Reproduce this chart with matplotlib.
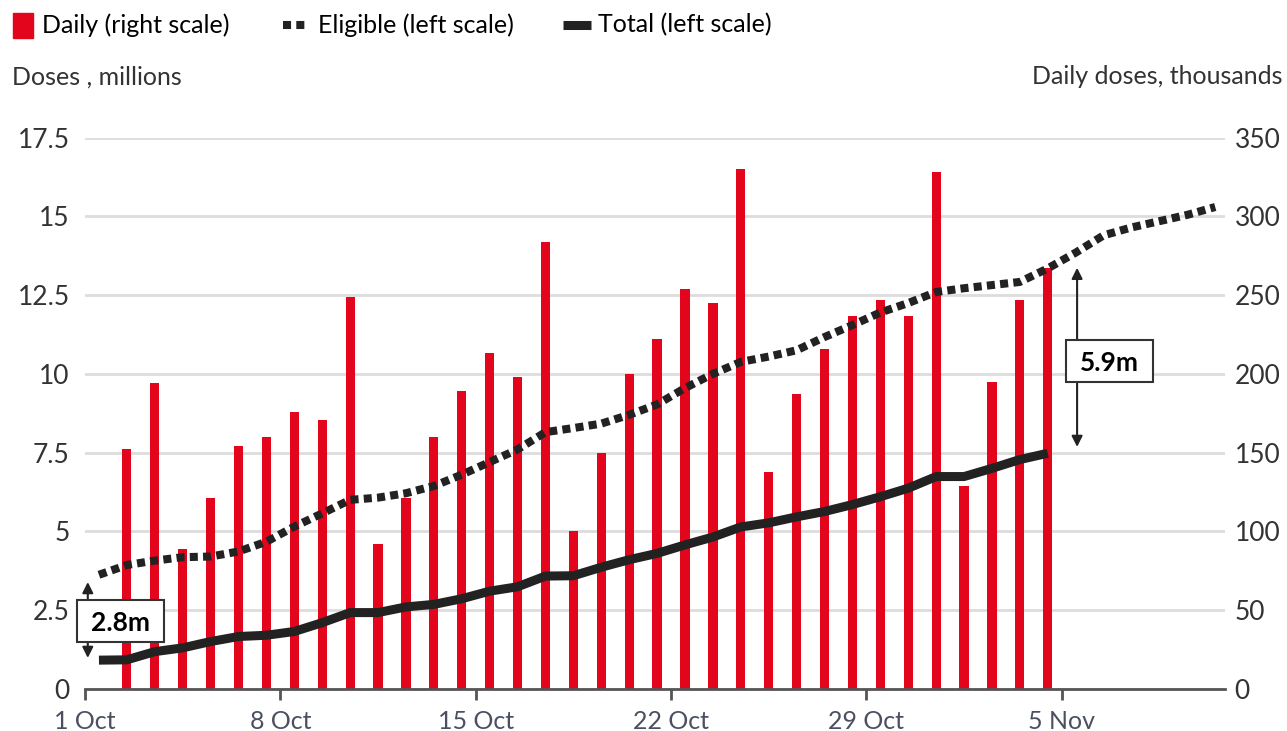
import matplotlib
matplotlib.use("Agg")
import matplotlib.pyplot as plt
from matplotlib.patches import Rectangle
from matplotlib.lines import Line2D
import numpy as np

plt.rcParams['font.family'] = ['Lato', 'DejaVu Sans']

# ---------------- data ----------------
# days since 1 Oct (bars are centred at noon of each day)
daily_days = np.arange(34) + 1.5
daily_thousands = [152, 194, 89, 121, 154, 160, 176, 171, 249, 92,
                   121, 160, 189, 213, 198, 284, 100, 150, 200, 222,
                   254, 245, 330, 138, 187, 216, 237, 247, 237, 328,
                   129, 195, 247, 267]

total_days = np.arange(35) + 0.5
total_millions = [0.91, 0.92, 1.18, 1.30, 1.50, 1.66, 1.70, 1.82, 2.10, 2.42,
                  2.42, 2.60, 2.68, 2.86, 3.10, 3.24, 3.58, 3.59, 3.86, 4.10,
                  4.30, 4.57, 4.82, 5.14, 5.27, 5.46, 5.63, 5.85, 6.10, 6.37,
                  6.74, 6.74, 7.00, 7.28, 7.48]

eligible_days = np.arange(41) + 0.5
eligible_millions = [3.62, 3.93, 4.07, 4.18, 4.20, 4.36, 4.67, 5.15, 5.57, 6.00,
                     6.07, 6.21, 6.44, 6.80, 7.20, 7.60, 8.15, 8.28, 8.42, 8.70,
                     9.03, 9.55, 10.00, 10.38, 10.55, 10.75, 11.17, 11.55, 11.95, 12.25,
                     12.60, 12.72, 12.82, 12.92, 13.35, 13.85, 14.40, 14.65, 14.85, 15.05,
                     15.30]

xtick_days = [0, 7, 14, 21, 28, 35]
xtick_labels = ['1 Oct', '8 Oct', '15 Oct', '22 Oct', '29 Oct', '5 Nov']
left_ticks = [0, 2.5, 5, 7.5, 10, 12.5, 15, 17.5]
left_labels = ['0', '2.5', '5', '7.5', '10', '12.5', '15', '17.5']
right_ticks = [0, 50, 100, 150, 200, 250, 300, 350]

gap_start = ('2.8m', 0.1, 0.98, 3.39)     # label, day, low, high
gap_end = ('5.9m', 35.55, 7.68, 13.37)

# ---------------- style ----------------
RED = '#e3051b'
DARK = '#222222'
TXT = '#333333'
XTXT = '#4a5060'
GRID = '#dddddd'
FS = 18
NFS = 19

W, H = 1287, 731
fig = plt.figure(figsize=(W / 100, H / 100), dpi=100)
fig.patch.set_facecolor('white')

ax_l, ax_r, ax_t, ax_b = 85, 1225, 137.7, 688.8
rect = [ax_l / W, (H - ax_b) / H, (ax_r - ax_l) / W, (ax_b - ax_t) / H]
ax2 = fig.add_axes(rect)          # bars (right scale), drawn underneath
ax = fig.add_axes(rect, sharex=ax2)   # lines (left scale), drawn on top
ax.set_zorder(ax2.get_zorder() + 1)
ax.patch.set_visible(False)

# bars
ax2.bar(daily_days, daily_thousands, width=0.33, color=RED, zorder=2)
ax2.set_ylim(0, 350)
ax2.set_yticks(right_ticks)
ax2.yaxis.tick_right()
ax2.tick_params(axis='y', which='both', length=0, pad=7, labelsize=NFS, labelcolor=TXT)
ax2.grid(axis='y', color=GRID, lw=2)
ax2.set_axisbelow(True)
for s in ax2.spines.values():
    s.set_visible(False)

# lines
ax.plot(total_days, total_millions, color=DARK, lw=6.5, solid_capstyle='butt',
        solid_joinstyle='round', zorder=3)
ax.plot(eligible_days, eligible_millions, color=DARK, lw=5.8,
        linestyle=(0, (1.0, 0.65)), dash_capstyle='butt', zorder=3)
ax.set_ylim(0, 17.5)
ax.set_xlim(0, 40.85)
ax.set_yticks(left_ticks)
ax.set_yticklabels(left_labels)
ax.yaxis.tick_left()
ax.tick_params(axis='y', length=0, pad=11, labelsize=NFS, labelcolor=TXT)
ax.set_xticks(xtick_days)
ax.set_xticklabels(xtick_labels)
ax.tick_params(axis='x', length=8, width=2, color='#555555', pad=7,
               labelsize=FS, labelcolor=XTXT)
ax2.tick_params(axis='x', length=0, labelbottom=False)
for k in ['top', 'left', 'right']:
    ax.spines[k].set_visible(False)
ax.spines['bottom'].set_color('#555555')
ax.spines['bottom'].set_linewidth(2)

# annotations: double arrows with labelled boxes
px_day = (ax_r - ax_l) / 40.85
px_unit = (ax_b - ax_t) / 17.5
box_w = 87 / px_day
box_h = 42 / px_unit
for label, dx, lo, hi in (gap_start, gap_end):
    ax.annotate('', xy=(dx, hi), xytext=(dx, lo),
                arrowprops=dict(arrowstyle='<|-|>', color=DARK, lw=1.5,
                                mutation_scale=16, shrinkA=0, shrinkB=0),
                annotation_clip=False, zorder=4)
for label, cx, cy in ((gap_start[0], 1.27, 2.15), (gap_end[0], 36.7, 10.41)):
    ax.add_patch(Rectangle((cx - box_w / 2, cy - box_h / 2), box_w, box_h,
                           fc='white', ec='#333333', lw=1.5, zorder=5, clip_on=False))
    ax.text(cx, cy, label, ha='center', va='center_baseline', fontsize=19,
            fontweight='bold', color='black', zorder=6)

# axis titles
fig.text(12 / W, 1 - 77 / H, 'Doses , millions', ha='left', va='center',
         fontsize=FS, color=TXT)
fig.text(1283 / W, 1 - 77 / H, 'Daily doses, thousands', ha='right', va='center',
         fontsize=FS, color=TXT)

# legend (drawn manually)
def fx(px):
    return px / W

def fy(py):
    return 1 - py / H

fig.add_artist(Rectangle((fx(13), fy(38)), 20 / W, 25 / H, transform=fig.transFigure,
                         color=RED))
fig.text(fx(42), fy(25), 'Daily (right scale)', ha='left', va='center', fontsize=FS,
         color='black')
fig.add_artist(Line2D([fx(283), fx(305)], [fy(25), fy(25)], transform=fig.transFigure,
                      color=DARK, lw=5.8, linestyle=(0, (1.0, 0.65)), dash_capstyle='butt'))
fig.text(fx(318), fy(25), 'Eligible (left scale)', ha='left', va='center', fontsize=FS,
         color='black')
fig.add_artist(Line2D([fx(563), fx(591)], [fy(25), fy(25)], transform=fig.transFigure,
                      color=DARK, lw=6.5, solid_capstyle='butt'))
fig.text(fx(598), fy(25), 'Total (left scale)', ha='left', va='center', fontsize=FS,
         color='black')

fig.savefig('out.png', dpi=100, facecolor='white')
